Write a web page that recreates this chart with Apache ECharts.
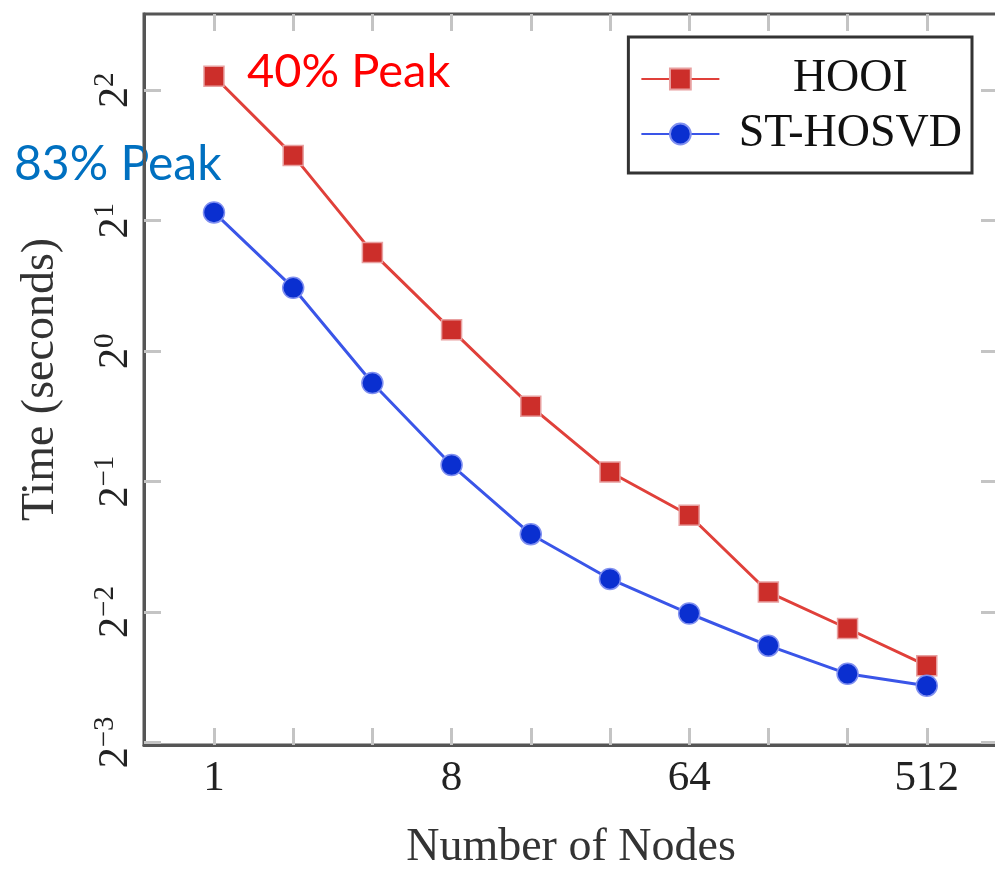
<!DOCTYPE html>
<html lang="en">

<head>
    <meta charset="UTF-8">
    <title>HOOI vs ST-HOSVD</title>
    <style>
        body { margin: 0; background: #fff; }
        #main { width: 995px; height: 870px; }
    </style>
</head>

<body>
    <div id="main"></div>
    <script src="https://cdn.jsdelivr.net/npm/echarts@6/dist/echarts.min.js"></script>
    <script>
        // data (seconds, log2 axes)
        const nodes = [1, 2, 4, 8, 16, 32, 64, 128, 256, 512];
        const hooi = [4.31, 2.83, 1.69, 1.12, 0.746, 0.526, 0.418, 0.278, 0.229, 0.188];
        const sthosvd = [2.09, 1.40, 0.844, 0.546, 0.378, 0.298, 0.248, 0.209, 0.180, 0.169];
        const xLabels = [1, 8, 64, 512];
        const yTicks = [0.125, 0.25, 0.5, 1, 2, 4];

        const serif = 'Liberation Serif';
        const tickStyle = { inside: true, length: 17, lineStyle: { color: '#c4c4c4', width: 3 } };

        function pairs(ys) {
            return nodes.map((n, i) => [n, ys[i]]);
        }

        function supLabel(value) {
            let e = Math.round(Math.log2(value));
            let s = e < 0 ? '\u2212' + (-e) : String(e);
            return '{b|2}{s|' + s + '}';
        }

        function xAx(pos, labels) {
            return {
                type: 'log',
                logBase: 2,
                position: pos,
                min: 0.542,
                max: 955,
                axisLine: { show: pos === 'bottom', lineStyle: { color: '#555', width: 3 } },
                axisTick: Object.assign({ customValues: nodes }, tickStyle),
                splitLine: { show: false },
                axisLabel: {
                    show: labels,
                    customValues: xLabels,
                    margin: 12,
                    fontFamily: serif,
                    fontSize: 43,
                    color: '#222'
                },
                name: labels ? 'Number of Nodes' : '',
                nameLocation: 'middle',
                nameGap: 80,
                nameTextStyle: { fontFamily: serif, fontSize: 46, color: '#333' }
            };
        }

        function yAx(pos, labels) {
            return {
                type: 'log',
                logBase: 2,
                position: pos,
                min: 0.1233,
                max: 6.0,
                axisLine: { show: pos === 'left', lineStyle: { color: '#555', width: 3 } },
                axisTick: Object.assign({ customValues: yTicks }, tickStyle),
                splitLine: { show: false },
                axisLabel: {
                    show: labels,
                    customValues: yTicks,
                    rotate: 90,
                    margin: 7,
                    formatter: supLabel,
                    rich: {
                        b: { fontFamily: serif, fontSize: 42, color: '#222', verticalAlign: 'bottom', lineHeight: 46 },
                        s: { fontFamily: serif, fontSize: 29, color: '#222', verticalAlign: 'top', lineHeight: 46 }
                    }
                },
                name: labels ? 'Time (seconds)' : '',
                nameLocation: 'middle',
                nameGap: 80,
                nameRotate: 90,
                nameTextStyle: { fontFamily: serif, fontSize: 46, color: '#333' }
            };
        }

        const chart = echarts.init(document.getElementById('main'));
        chart.setOption({
            animation: false,
            grid: {
                left: 144, right: -3, top: 14, bottom: 125,
                outerBoundsMode: 'none',
                containLabel: false,
                show: true, borderColor: '#555', borderWidth: 3
            },
            xAxis: [xAx('bottom', true), xAx('top', false)],
            yAxis: [yAx('left', true), yAx('right', false)],
            legend: {
                orient: 'vertical',
                right: 23,
                top: 37,
                borderColor: '#333',
                borderWidth: 3,
                backgroundColor: '#fff',
                padding: [19, 10, 16, 12],
                itemGap: 9,
                itemWidth: 78,
                itemHeight: 26,
                formatter: name => '{t|' + name + '}',
                textStyle: {
                    rich: { t: { fontFamily: serif, fontSize: 46, color: '#111', width: 252, align: 'center' } }
                },
                data: ['HOOI', 'ST-HOSVD']
            },
            graphic: [
                {
                    type: 'text', left: 247, top: 48,
                    style: { text: '40% Peak', font: '47px Lato', fill: '#ff0000' }
                },
                {
                    type: 'text', left: 14, top: 141,
                    style: { text: '83% Peak', font: '48px Lato', fill: '#0070c0' }
                }
            ],
            series: [
                {
                    name: 'HOOI',
                    type: 'line',
                    data: pairs(hooi),
                    symbol: 'rect',
                    symbolSize: 20,
                    itemStyle: { color: '#cc2e2a', borderColor: '#e8a0a0', borderWidth: 1.5 },
                    lineStyle: { color: '#e0403a', width: 3 }
                },
                {
                    name: 'ST-HOSVD',
                    type: 'line',
                    data: pairs(sthosvd),
                    symbol: 'circle',
                    symbolSize: 21,
                    itemStyle: { color: '#0a2fd0', borderColor: '#8090f0', borderWidth: 1.5 },
                    lineStyle: { color: '#3a55e8', width: 3 }
                }
            ]
        });
    </script>
</body>

</html>
